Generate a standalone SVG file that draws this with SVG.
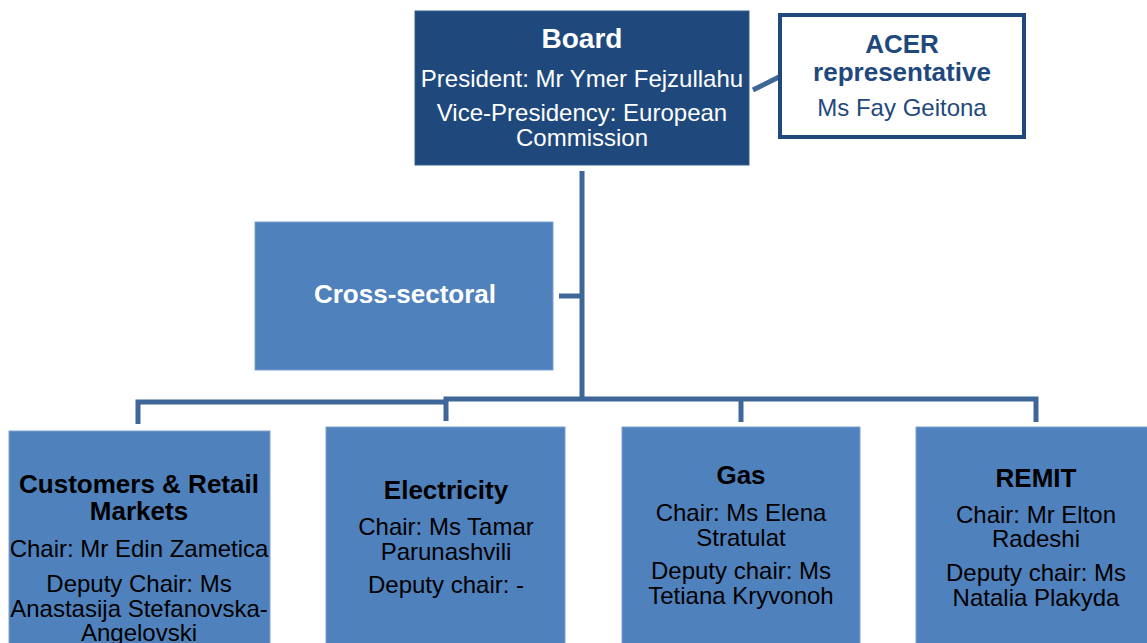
<svg xmlns="http://www.w3.org/2000/svg" width="1147" height="643" viewBox="0 0 1147 643">
<style>
text{font-family:"Liberation Sans",Arial,sans-serif;text-anchor:middle}
.t{font-size:24px}
.b{font-size:26px;font-weight:bold}
.w{fill:#ffffff}
.k{fill:#000000}
.d{fill:#1f497d}
.box{fill:#4f81bd;stroke:#7f9fd0;stroke-width:1}
.conn{fill:none;stroke:#3f6698;stroke-width:5;stroke-linejoin:miter}
</style>
<rect width="1147" height="643" fill="#ffffff"/>
<g id="connectors">
<line class="conn" x1="753" y1="90" x2="779" y2="77"/>
<polyline class="conn" points="582,171 582,400"/>
<polyline class="conn" points="559,296 582,296"/>
<polyline class="conn" points="138,424 138,402 446,402"/>
<polyline class="conn" points="446,421 446,399 1036,399 1036,422"/>
<polyline class="conn" points="741,399 741,422"/>
</g>
<g id="board">
<rect x="415" y="11" width="334" height="154" fill="#1f497d" stroke="#3a5f90" stroke-width="1"/>
<text class="b w" x="582" y="48" style="font-size:28px">Board</text>
<text class="t w" x="582" y="87">President: Mr Ymer Fejzullahu</text>
<text class="t w" x="582" y="121">Vice-Presidency: European</text>
<text class="t w" x="582" y="146">Commission</text>
</g>
<g id="acer">
<rect x="780" y="15" width="244" height="122" fill="#ffffff" stroke="#1f497d" stroke-width="4"/>
<text class="b d" x="902" y="53">ACER</text>
<text class="b d" x="902" y="81">representative</text>
<text class="t d" x="902" y="116">Ms Fay Geitona</text>
</g>
<g id="cross-sectoral">
<rect class="box" x="255" y="222" width="298" height="148"/>
<text class="b w" x="405" y="303">Cross-sectoral</text>
</g>
<g id="customers">
<rect class="box" x="9" y="431" width="261" height="220"/>
<text class="b k" x="139" y="493">Customers &amp; Retail</text>
<text class="b k" x="139" y="520">Markets</text>
<text class="t k" x="139" y="557">Chair: Mr Edin Zametica</text>
<text class="t k" x="139" y="592">Deputy Chair: Ms</text>
<text class="t k" x="139" y="617">Anastasija Stefanovska-</text>
<text class="t k" x="139" y="641">Angelovski</text>
</g>
<g id="electricity">
<rect class="box" x="326" y="427" width="239" height="224"/>
<text class="b k" x="446" y="499">Electricity</text>
<text class="t k" x="446" y="535">Chair: Ms Tamar</text>
<text class="t k" x="446" y="560">Parunashvili</text>
<text class="t k" x="446" y="593">Deputy chair: -</text>
</g>
<g id="gas">
<rect class="box" x="622" y="427" width="238" height="224"/>
<text class="b k" x="741" y="484">Gas</text>
<text class="t k" x="741" y="521">Chair: Ms Elena</text>
<text class="t k" x="741" y="546">Stratulat</text>
<text class="t k" x="741" y="579">Deputy chair: Ms</text>
<text class="t k" x="741" y="604">Tetiana Kryvonoh</text>
</g>
<g id="remit">
<rect class="box" x="916" y="427" width="240" height="224"/>
<text class="b k" x="1036" y="487">REMIT</text>
<text class="t k" x="1036" y="523">Chair: Mr Elton</text>
<text class="t k" x="1036" y="547">Radeshi</text>
<text class="t k" x="1036" y="581">Deputy chair: Ms</text>
<text class="t k" x="1036" y="606">Natalia Plakyda</text>
</g>
</svg>
